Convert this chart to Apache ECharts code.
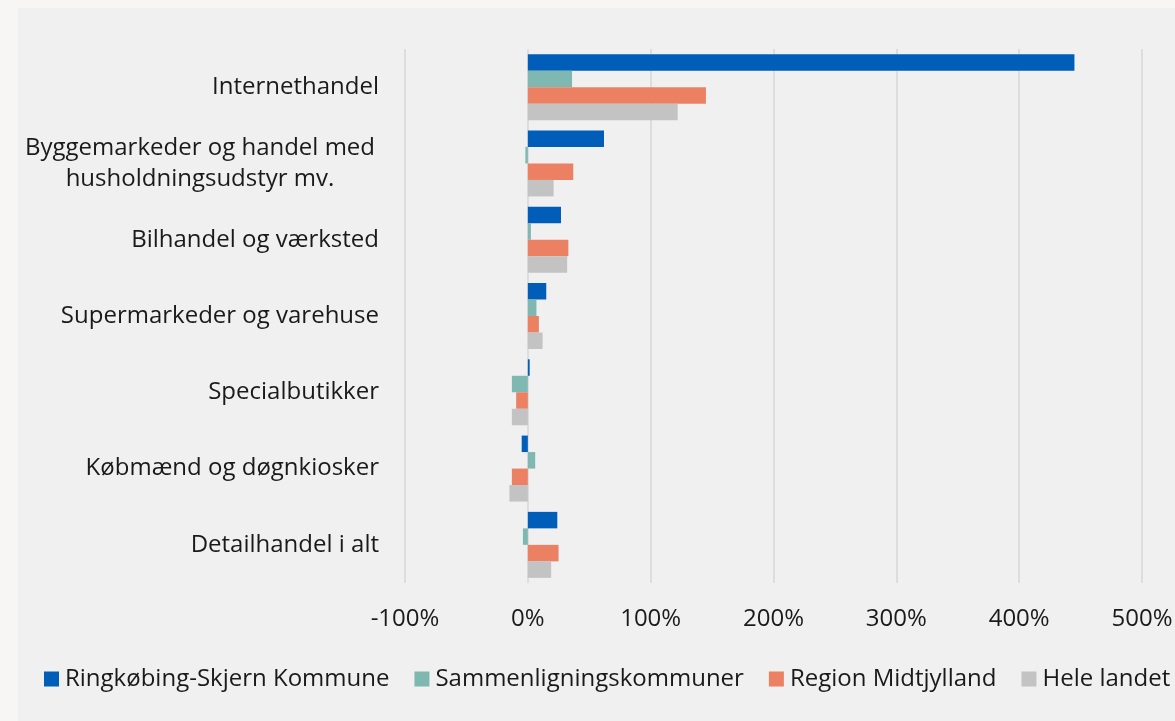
<!DOCTYPE html>
<html>
<head>
<meta charset="utf-8">
<script src="https://cdn.jsdelivr.net/npm/echarts@6/dist/echarts.min.js"></script>
<style>
  html, body { margin: 0; padding: 0; background: #f7f6f4; }
  .frame { position: absolute; left: 18px; top: 8px; right: 0; bottom: 0; background: #f0f0f0; }
  #chart { position: absolute; left: 0; top: 0; width: 1175px; height: 721px; }
</style>
</head>
<body>
<div class="frame"></div>
<div id="chart"></div>
<script>
// kategorier, oppefra og ned
const categories = [
  "Internethandel",
  "Byggemarkeder og handel med\nhusholdningsudstyr mv.",
  "Bilhandel og værksted",
  "Supermarkeder og varehuse",
  "Specialbutikker",
  "Købmænd og døgnkiosker",
  "Detailhandel i alt"
]

const seriesNames = [
  "Ringkøbing-Skjern Kommune",
  "Sammenligningskommuner",
  "Region Midtjylland",
  "Hele landet"
]

// vækst i procent
const ringkobing = [445, 62, 27, 15, 1.5, -5, 24]
const sammenligning = [36, -2, 2.5, 7, -13, 6, -4]
const midtjylland = [145, 37, 33, 9, -9.5, -13, 25]
const heleLandet = [122, 21, 32, 12, -13, -15, 19]

const colors = ["#005eb8", "#7fb8b1", "#ec8062", "#c3c3c3"]

const chart = echarts.init(document.getElementById("chart"))

const font = "'Open Sans', 'Noto Sans', sans-serif"

const option = {
  backgroundColor: "transparent",
  textStyle: { fontFamily: font },
  grid: {
    left: 405,
    right: 33,
    top: 49,
    bottom: 138,
    containLabel: false,
    outerBoundsMode: "none"
  },
  legend: {
    left: 44,
    top: 667,
    width: 1200,
    padding: 0,
    itemWidth: 15,
    itemHeight: 15,
    itemGap: 25,
    icon: "rect",
    textStyle: {
      fontSize: 24,
      color: "#1a1a1a",
      fontFamily: font,
      padding: [0, 0, 0, 1]
    },
    data: seriesNames
  },
  xAxis: {
    type: "value",
    min: -100,
    max: 500,
    interval: 100,
    axisLine: { show: false },
    axisTick: { show: false },
    splitLine: { lineStyle: { color: "#dddddd", width: 2 } },
    axisLabel: {
      formatter: (v) => v + "%",
      fontSize: 24,
      color: "#1a1a1a",
      fontFamily: font,
      margin: 24
    }
  },
  yAxis: {
    type: "category",
    inverse: true,
    data: categories,
    axisLine: { show: false, onZero: false },
    axisTick: { show: false },
    splitLine: { show: false },
    axisLabel: {
      fontSize: 24,
      color: "#1a1a1a",
      fontFamily: font,
      margin: 26,
      formatter: (v) => {
        // to-linjers etiket centreres i sin blok
        if (v.indexOf("\n") >= 0) {
          return v.split("\n").map((s) => "{w|" + s + "}").join("\n")
        }
        return v
      },
      rich: {
        w: {
          width: 358,
          align: "center",
          fontSize: 24,
          lineHeight: 31,
          color: "#1a1a1a",
          fontFamily: font
        }
      }
    }
  },
  series: [ringkobing, sammenligning, midtjylland, heleLandet].map((d, i) => ({
    name: seriesNames[i],
    type: "bar",
    data: d,
    barGap: "0%",
    barCategoryGap: "13.5%",
    itemStyle: { color: colors[i] }
  }))
}

chart.setOption(option)
</script>
</body>
</html>
